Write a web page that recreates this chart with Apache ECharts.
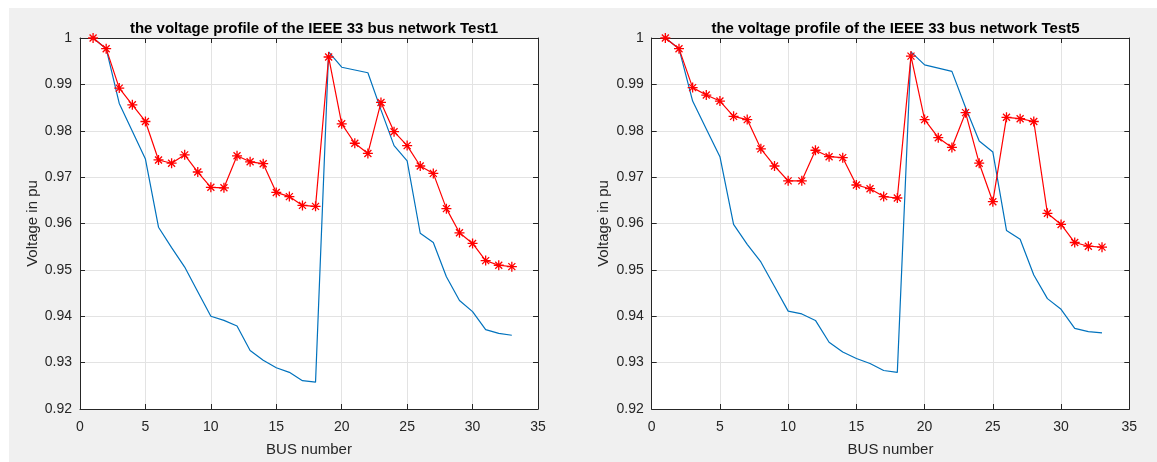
<!DOCTYPE html>
<html>
<head>
<meta charset="utf-8">
<script src="https://cdn.jsdelivr.net/npm/echarts@6/dist/echarts.min.js"></script>
<style>
html,body{margin:0;padding:0;background:#ffffff;width:1157px;height:462px;overflow:hidden;}
#chart{position:absolute;left:9px;top:8px;width:1148px;height:454px;}
</style>
</head>
<body>
<div id="chart"></div>
<script>
// Data
const buses = [1,2,3,4,5,6,7,8,9,10,11,12,13,14,15,16,17,18,19,20,21,22,23,24,25,26,27,28,29,30,31,32,33];

const test1Base = [1.0000, 0.9977, 0.9859, 0.9799, 0.9739, 0.9592, 0.9548, 0.9506, 0.9453, 0.9400, 0.9391, 0.9379, 0.9326, 0.9305, 0.9289, 0.9279, 0.9261, 0.9258, 0.9970, 0.9937, 0.9931, 0.9925, 0.9845, 0.9768, 0.9735, 0.9579, 0.9559, 0.9485, 0.9434, 0.9410, 0.9371, 0.9363, 0.9359];
const test1Improved = [1.0000, 0.9977, 0.9892, 0.9856, 0.9820, 0.9737, 0.9730, 0.9748, 0.9711, 0.9678, 0.9677, 0.9746, 0.9733, 0.9729, 0.9667, 0.9658, 0.9639, 0.9637, 0.9959, 0.9815, 0.9773, 0.9751, 0.9861, 0.9798, 0.9768, 0.9724, 0.9708, 0.9632, 0.9580, 0.9557, 0.9520, 0.9510, 0.9507];

const test5Base = [1.0000, 0.9977, 0.9864, 0.9804, 0.9744, 0.9598, 0.9555, 0.9517, 0.9464, 0.9411, 0.9405, 0.9391, 0.9344, 0.9323, 0.9309, 0.9298, 0.9283, 0.9279, 0.9970, 0.9942, 0.9935, 0.9928, 0.9850, 0.9778, 0.9754, 0.9585, 0.9566, 0.9489, 0.9438, 0.9415, 0.9374, 0.9367, 0.9364];
const test5Improved = [1.0000, 0.9977, 0.9893, 0.9877, 0.9864, 0.9831, 0.9824, 0.9761, 0.9724, 0.9692, 0.9692, 0.9758, 0.9744, 0.9742, 0.9683, 0.9675, 0.9658, 0.9655, 0.9961, 0.9824, 0.9785, 0.9764, 0.9839, 0.9730, 0.9647, 0.9829, 0.9826, 0.9820, 0.9622, 0.9598, 0.9559, 0.9551, 0.9549];

const titles = ['the voltage profile of the IEEE 33 bus network Test1', 'the voltage profile of the IEEE 33 bus network Test5'];
const xName = 'BUS number';
const yName = 'Voltage in pu';

const FONT = 'Liberation Sans, Arial, Helvetica, sans-serif';
const AX = '#262626';
const GRIDC = '#e3e3e3';
const asterisk = 'path://M5,0L5,10M0,5L10,5M1.5,1.5L8.5,8.5M8.5,1.5L1.5,8.5';

function pairs(ys){ return buses.map((b,i)=>[b, ys[i]]); }

const grids = [
  {left:71, top:30, width:458, height:377},
  {left:642.7, top:30, width:477.6, height:377}
];

function xAxes(gi){
  return [
    {type:'value', gridIndex:gi, min:0, max:35, interval:5, position:'bottom',
     name:xName, nameLocation:'middle', nameGap:33,
     nameTextStyle:{fontFamily:FONT, fontSize:15, color:AX},
     axisLine:{show:true, onZero:false, lineStyle:{color:AX, width:1}},
     axisTick:{show:true, inside:true, length:5, lineStyle:{color:AX}},
     axisLabel:{fontFamily:FONT, fontSize:14, color:AX, margin:11},
     splitLine:{show:true, lineStyle:{color:GRIDC, width:1}}},
    {type:'value', gridIndex:gi, min:0, max:35, interval:5, position:'top',
     axisLine:{show:true, onZero:false, lineStyle:{color:AX, width:1}},
     axisTick:{show:true, inside:true, length:5, lineStyle:{color:AX}},
     axisLabel:{show:false}, splitLine:{show:false}}
  ];
}
function yAxes(gi){
  const fmt = v => String(parseFloat(v.toFixed(2)));
  return [
    {type:'value', gridIndex:gi, min:0.92, max:1, interval:0.01, position:'left',
     name:yName, nameLocation:'middle', nameGap:40,
     nameTextStyle:{fontFamily:FONT, fontSize:15, color:AX},
     axisLine:{show:true, onZero:false, lineStyle:{color:AX, width:1}},
     axisTick:{show:true, inside:true, length:5, lineStyle:{color:AX}},
     axisLabel:{fontFamily:FONT, fontSize:14, color:AX, margin:8, formatter:fmt},
     splitLine:{show:true, lineStyle:{color:GRIDC, width:1}}},
    {type:'value', gridIndex:gi, min:0.92, max:1, interval:0.01, position:'right',
     axisLine:{show:true, onZero:false, lineStyle:{color:AX, width:1}},
     axisTick:{show:true, inside:true, length:5, lineStyle:{color:AX}},
     axisLabel:{show:false}, splitLine:{show:false}}
  ];
}

function baseSeries(xi, yi, ys){
  return {type:'line', xAxisIndex:xi, yAxisIndex:yi, data:pairs(ys), showSymbol:false, symbol:'none',
    lineStyle:{color:'#0072BD', width:1.2}, itemStyle:{color:'#0072BD'}, z:2, animation:false};
}
function improvedSeries(xi, yi, ys){
  return {type:'line', xAxisIndex:xi, yAxisIndex:yi, data:pairs(ys), showSymbol:true,
    symbol:asterisk, symbolSize:10,
    lineStyle:{color:'#ff0000', width:1.2},
    itemStyle:{color:'none', borderColor:'#ff0000', borderWidth:1.3},
    z:3, animation:false};
}

const chart = echarts.init(document.getElementById('chart'), null, {renderer:'canvas'});
chart.setOption({
  backgroundColor:'#f0f0f0',
  animation:false,
  title:[
    {text:titles[0], left:300, top:8, textAlign:'center',
     textStyle:{fontFamily:FONT, fontSize:15, fontWeight:'bold', color:'#000'}},
    {text:titles[1], left:881.5, top:8, textAlign:'center',
     textStyle:{fontFamily:FONT, fontSize:15, fontWeight:'bold', color:'#000'}}
  ],
  grid:grids.map(g=>Object.assign({backgroundColor:'#ffffff', show:true, borderWidth:0}, g)),
  xAxis:[...xAxes(0), ...xAxes(1)],
  yAxis:[...yAxes(0), ...yAxes(1)],
  series:[
    baseSeries(0,0,test1Base),
    improvedSeries(0,0,test1Improved),
    baseSeries(2,2,test5Base),
    improvedSeries(2,2,test5Improved)
  ]
});
</script>
</body>
</html>
